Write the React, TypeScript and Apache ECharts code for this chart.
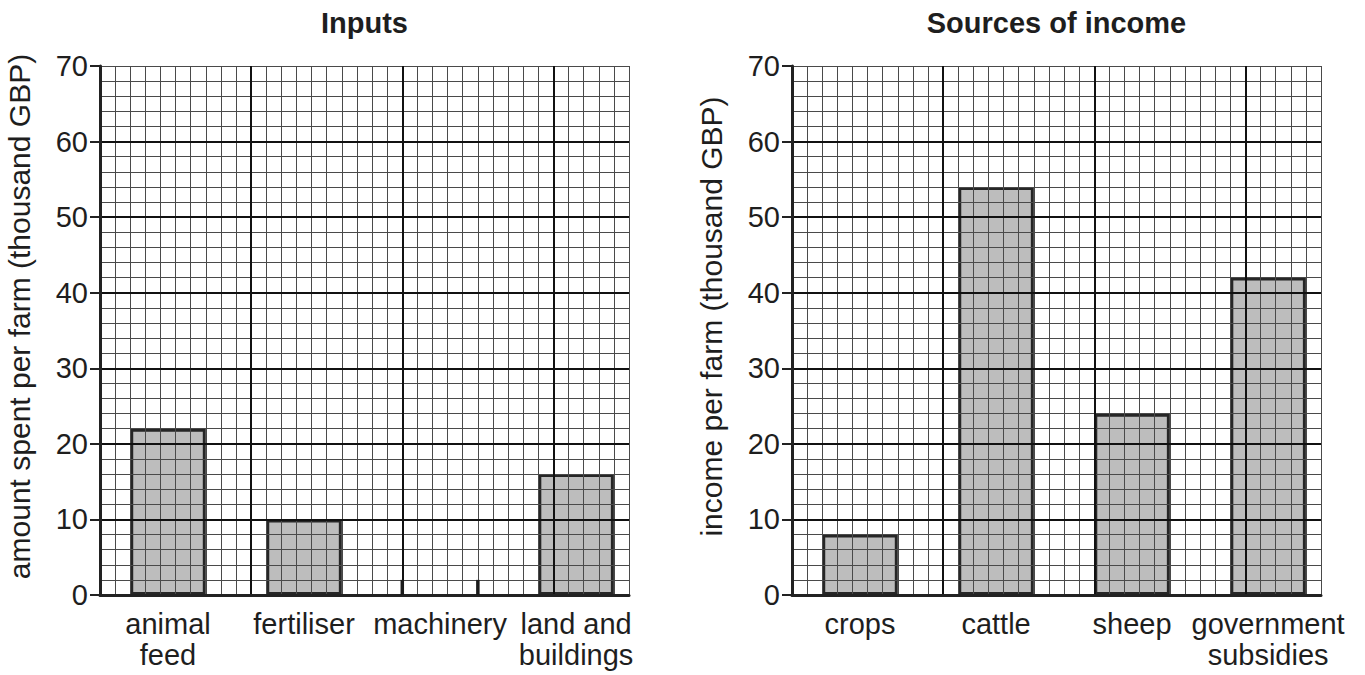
import React, { useEffect, useRef } from "react";
import * as echarts from "echarts";

// ---- data ----
const inputTitle = "Inputs";
const inputAxisName = "amount spent per farm (thousand GBP)";
const inputCategories = ["animal\nfeed", "fertiliser", "machinery", "land and\nbuildings"];
const inputValues: (number | null)[] = [22, 10, null, 16];

const incomeTitle = "Sources of income";
const incomeAxisName = "income per farm (thousand GBP)";
const incomeCategories = ["crops", "cattle", "sheep", "government\nsubsidies"];
const incomeValues: (number | null)[] = [8, 54, 24, 42];

const yMin = 0;
const yMax = 70;
const yMajorStep = 10;
const yMinorStep = 2;
const markerHeight = 2; // guide marks for the missing bar

// ---- layout ----
const FONT = "'Liberation Sans', Arial, Helvetica, sans-serif";
const TEXT = "#1e1e1e";
const plotTop = 66;
const plotSize = 529;
const paperCols = 35;
const barCols = 36; // 4 categories x 9 squares
const square = plotSize / paperCols;
const panelLefts = [100, 792];

function buildPanel(
  p: number,
  left: number,
  title: string,
  axisName: string,
  cats: string[],
  vals: (number | null)[]
) {
  const gPaper = p * 2;
  const gBars = p * 2 + 1;
  const xBase = p * 3;
  const yBase = p * 3;
  const grids = [
    { left, top: plotTop, width: plotSize, height: plotSize },
    { left, top: plotTop, width: square * barCols, height: plotSize },
  ];
  const minorLine = { color: "#4a4a4a", width: 1 };
  const majorLine = { color: "#111", width: 2 };
  const xAxes = [
    {
      type: "value", gridIndex: gPaper, position: "bottom", min: 0, max: paperCols, interval: 1, z: 3,
      axisLine: { show: false }, axisTick: { show: false }, axisLabel: { show: false },
      splitLine: { show: true, lineStyle: minorLine },
    },
    {
      type: "value", gridIndex: gPaper, position: "bottom", min: 0, max: paperCols, interval: 10, z: 4,
      axisLine: { show: true, onZero: false, lineStyle: { color: "#222", width: 3 } },
      axisTick: { show: false }, axisLabel: { show: false },
      splitLine: { show: true, showMaxLine: false, lineStyle: majorLine },
    },
    {
      type: "category", gridIndex: gBars, position: "bottom", data: cats,
      axisLine: { show: false }, axisTick: { show: false },
      axisLabel: {
        interval: 0, margin: 13, fontSize: 29, lineHeight: 31, color: TEXT,
        fontFamily: FONT, align: "center",
      },
      splitLine: { show: false },
    },
  ];
  const yAxes = [
    {
      type: "value", gridIndex: gPaper, position: "left", min: yMin, max: yMax, interval: yMinorStep, z: 3,
      axisLine: { show: false }, axisTick: { show: false }, axisLabel: { show: false },
      splitLine: { show: true, lineStyle: minorLine },
    },
    {
      type: "value", gridIndex: gPaper, position: "left", min: yMin, max: yMax, interval: yMajorStep, z: 4,
      axisLine: { show: true, onZero: false, lineStyle: { color: "#222", width: 3 } },
      axisTick: { show: true, inside: false, length: 10, lineStyle: { color: "#222", width: 2 } },
      axisLabel: { show: true, margin: 12, fontSize: 29, color: TEXT, fontFamily: FONT },
      splitLine: { show: true, showMaxLine: false, lineStyle: majorLine },
      name: axisName,
      nameLocation: "middle",
      nameGap: 66,
      nameTextStyle: { fontSize: 30, color: TEXT, fontFamily: FONT, padding: [0, 0, 0, 28] },
    },
    {
      type: "value", gridIndex: gBars, position: "left", min: yMin, max: yMax, show: false,
      splitLine: { show: false },
    },
  ];
  const barFrac = 5 / 9;
  const series = [
    {
      type: "bar", xAxisIndex: xBase + 2, yAxisIndex: yBase + 2, z: 2,
      data: vals,
      barWidth: `${barFrac * 100}%`,
      itemStyle: { color: "#bdbdbd", borderColor: "#262626", borderWidth: 3 },
    },
    {
      type: "custom", xAxisIndex: xBase + 2, yAxisIndex: yBase + 2, z: 5,
      data: vals
        .map((v, i) => (v === null ? [i, markerHeight] : null))
        .filter((d) => d !== null),
      renderItem: (params: any, api: any) => {
        const base = api.coord([api.value(0), 0]);
        const top = api.coord([api.value(0), api.value(1)]);
        const half = (api.size([1, 0])[0] * barFrac) / 2;
        const style = { stroke: "#1a1a1a", lineWidth: 3.5 };
        return {
          type: "group",
          children: [
            { type: "line", shape: { x1: base[0] - half, y1: base[1], x2: base[0] - half, y2: top[1] }, style },
            { type: "line", shape: { x1: base[0] + half, y1: base[1], x2: base[0] + half, y2: top[1] }, style },
          ],
        };
      },
    },
  ];
  const titleOpt = {
    text: title,
    left: left + plotSize / 2,
    top: 8,
    padding: 0,
    textAlign: "center",
    textStyle: { fontSize: 29, fontWeight: "bold", color: TEXT, fontFamily: FONT },
  };
  return { grids, xAxes, yAxes, series, titleOpt };
}

export default function App() {
  const ref = useRef<HTMLDivElement>(null);
  useEffect(() => {
    if (!ref.current) return;
    const chart = echarts.init(ref.current, null, { renderer: "svg" });
    const a = buildPanel(0, panelLefts[0], inputTitle, inputAxisName, inputCategories, inputValues);
    const b = buildPanel(1, panelLefts[1], incomeTitle, incomeAxisName, incomeCategories, incomeValues);
    chart.setOption({
      animation: false,
      backgroundColor: "#ffffff",
      textStyle: { fontFamily: FONT },
      title: [a.titleOpt, b.titleOpt],
      grid: [...a.grids, ...b.grids],
      xAxis: [...a.xAxes, ...b.xAxes],
      yAxis: [...a.yAxes, ...b.yAxes],
      series: [...a.series, ...b.series],
    });
    return () => chart.dispose();
  }, []);
  return (
    <div
      ref={ref}
      style={{ position: "absolute", left: 0, top: 0, width: 1365, height: 675, background: "#fff" }}
    />
  );
}
